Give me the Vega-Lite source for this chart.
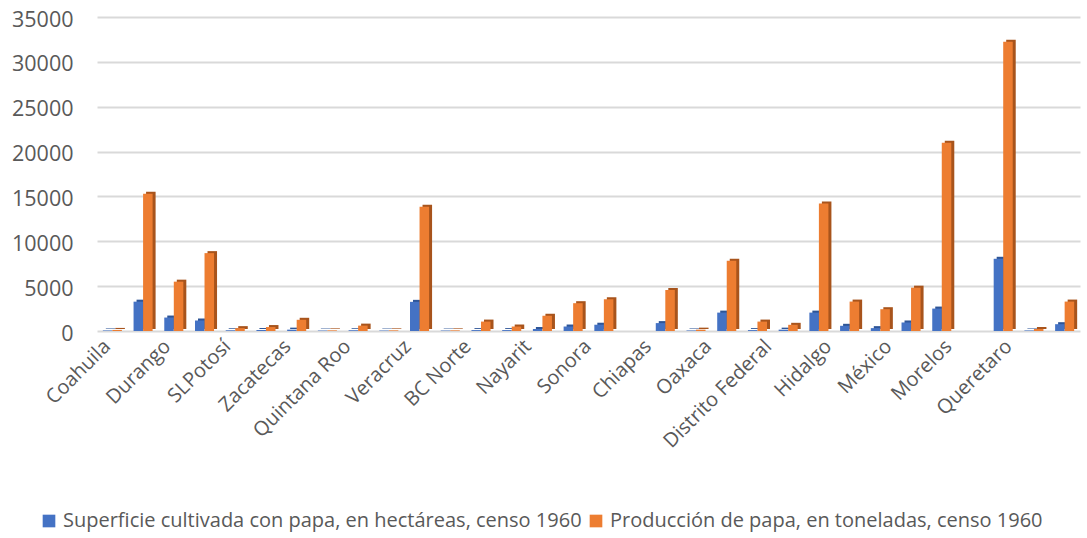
{
  "$schema": "https://vega.github.io/schema/vega-lite/v6.json",
  "width": 983,
  "height": 314,
  "autosize": {"type": "none"},
  "padding": {"left": 97, "top": 17, "right": 7, "bottom": 207},
  "background": "white",
  "config": {
    "font": "Open Sans",
    "view": {"stroke": null},
    "axis": {"labelColor": "#595959", "labelFont": "Open Sans", "gridColor": "#d9d9d9", "gridWidth": 2, "domain": false, "ticks": false}
  },
  "data": {
    "values": [
      {"estado": "Coahuila", "serie": "Superficie cultivada con papa, en hectáreas, censo 1960", "valor": 60},
      {"estado": "Coahuila", "serie": "Producción de papa, en toneladas, censo 1960", "valor": 120},
      {"estado": "Nuevo León", "serie": "Superficie cultivada con papa, en hectáreas, censo 1960", "valor": 3270},
      {"estado": "Nuevo León", "serie": "Producción de papa, en toneladas, censo 1960", "valor": 15300},
      {"estado": "Durango", "serie": "Superficie cultivada con papa, en hectáreas, censo 1960", "valor": 1500},
      {"estado": "Durango", "serie": "Producción de papa, en toneladas, censo 1960", "valor": 5500},
      {"estado": "Chihuahua", "serie": "Superficie cultivada con papa, en hectáreas, censo 1960", "valor": 1170},
      {"estado": "Chihuahua", "serie": "Producción de papa, en toneladas, censo 1960", "valor": 8680},
      {"estado": "SLPotosí", "serie": "Superficie cultivada con papa, en hectáreas, censo 1960", "valor": 80},
      {"estado": "SLPotosí", "serie": "Producción de papa, en toneladas, censo 1960", "valor": 320},
      {"estado": "Tamaulipas", "serie": "Superficie cultivada con papa, en hectáreas, censo 1960", "valor": 110},
      {"estado": "Tamaulipas", "serie": "Producción de papa, en toneladas, censo 1960", "valor": 440},
      {"estado": "Zacatecas", "serie": "Superficie cultivada con papa, en hectáreas, censo 1960", "valor": 150},
      {"estado": "Zacatecas", "serie": "Producción de papa, en toneladas, censo 1960", "valor": 1250},
      {"estado": "Aguascalientes", "serie": "Superficie cultivada con papa, en hectáreas, censo 1960", "valor": 50},
      {"estado": "Aguascalientes", "serie": "Producción de papa, en toneladas, censo 1960", "valor": 70},
      {"estado": "Quintana Roo", "serie": "Superficie cultivada con papa, en hectáreas, censo 1960", "valor": 80},
      {"estado": "Quintana Roo", "serie": "Producción de papa, en toneladas, censo 1960", "valor": 600},
      {"estado": "Yucatán", "serie": "Superficie cultivada con papa, en hectáreas, censo 1960", "valor": 50},
      {"estado": "Yucatán", "serie": "Producción de papa, en toneladas, censo 1960", "valor": 70},
      {"estado": "Veracruz", "serie": "Superficie cultivada con papa, en hectáreas, censo 1960", "valor": 3250},
      {"estado": "Veracruz", "serie": "Producción de papa, en toneladas, censo 1960", "valor": 13850},
      {"estado": "Campeche", "serie": "Superficie cultivada con papa, en hectáreas, censo 1960", "valor": 50},
      {"estado": "Campeche", "serie": "Producción de papa, en toneladas, censo 1960", "valor": 70},
      {"estado": "BC Norte", "serie": "Superficie cultivada con papa, en hectáreas, censo 1960", "valor": 100},
      {"estado": "BC Norte", "serie": "Producción de papa, en toneladas, censo 1960", "valor": 1050},
      {"estado": "BC Sur", "serie": "Superficie cultivada con papa, en hectáreas, censo 1960", "valor": 100},
      {"estado": "BC Sur", "serie": "Producción de papa, en toneladas, censo 1960", "valor": 500},
      {"estado": "Nayarit", "serie": "Superficie cultivada con papa, en hectáreas, censo 1960", "valor": 220},
      {"estado": "Nayarit", "serie": "Producción de papa, en toneladas, censo 1960", "valor": 1700},
      {"estado": "Sinaloa", "serie": "Superficie cultivada con papa, en hectáreas, censo 1960", "valor": 500},
      {"estado": "Sinaloa", "serie": "Producción de papa, en toneladas, censo 1960", "valor": 3100},
      {"estado": "Sonora", "serie": "Superficie cultivada con papa, en hectáreas, censo 1960", "valor": 700},
      {"estado": "Sonora", "serie": "Producción de papa, en toneladas, censo 1960", "valor": 3540},
      {"estado": "Tabasco", "serie": "Superficie cultivada con papa, en hectáreas, censo 1960", "valor": 0},
      {"estado": "Tabasco", "serie": "Producción de papa, en toneladas, censo 1960", "valor": 0},
      {"estado": "Chiapas", "serie": "Superficie cultivada con papa, en hectáreas, censo 1960", "valor": 880},
      {"estado": "Chiapas", "serie": "Producción de papa, en toneladas, censo 1960", "valor": 4570},
      {"estado": "Colima", "serie": "Superficie cultivada con papa, en hectáreas, censo 1960", "valor": 60},
      {"estado": "Colima", "serie": "Producción de papa, en toneladas, censo 1960", "valor": 150},
      {"estado": "Oaxaca", "serie": "Superficie cultivada con papa, en hectáreas, censo 1960", "valor": 2050},
      {"estado": "Oaxaca", "serie": "Producción de papa, en toneladas, censo 1960", "valor": 7830},
      {"estado": "Guerrero", "serie": "Superficie cultivada con papa, en hectáreas, censo 1960", "valor": 100},
      {"estado": "Guerrero", "serie": "Producción de papa, en toneladas, censo 1960", "valor": 1050},
      {"estado": "Distrito Federal", "serie": "Superficie cultivada con papa, en hectáreas, censo 1960", "valor": 150},
      {"estado": "Distrito Federal", "serie": "Producción de papa, en toneladas, censo 1960", "valor": 690},
      {"estado": "Puebla", "serie": "Superficie cultivada con papa, en hectáreas, censo 1960", "valor": 2050},
      {"estado": "Puebla", "serie": "Producción de papa, en toneladas, censo 1960", "valor": 14200},
      {"estado": "Hidalgo", "serie": "Superficie cultivada con papa, en hectáreas, censo 1960", "valor": 580},
      {"estado": "Hidalgo", "serie": "Producción de papa, en toneladas, censo 1960", "valor": 3280},
      {"estado": "Tlaxcala", "serie": "Superficie cultivada con papa, en hectáreas, censo 1960", "valor": 320},
      {"estado": "Tlaxcala", "serie": "Producción de papa, en toneladas, censo 1960", "valor": 2430},
      {"estado": "México", "serie": "Superficie cultivada con papa, en hectáreas, censo 1960", "valor": 950},
      {"estado": "México", "serie": "Producción de papa, en toneladas, censo 1960", "valor": 4830},
      {"estado": "Michoacán", "serie": "Superficie cultivada con papa, en hectáreas, censo 1960", "valor": 2500},
      {"estado": "Michoacán", "serie": "Producción de papa, en toneladas, censo 1960", "valor": 20970},
      {"estado": "Morelos", "serie": "Superficie cultivada con papa, en hectáreas, censo 1960", "valor": 0},
      {"estado": "Morelos", "serie": "Producción de papa, en toneladas, censo 1960", "valor": 0},
      {"estado": "Guanajuato", "serie": "Superficie cultivada con papa, en hectáreas, censo 1960", "valor": 8050},
      {"estado": "Guanajuato", "serie": "Producción de papa, en toneladas, censo 1960", "valor": 32250},
      {"estado": "Queretaro", "serie": "Superficie cultivada con papa, en hectáreas, censo 1960", "valor": 60},
      {"estado": "Queretaro", "serie": "Producción de papa, en toneladas, censo 1960", "valor": 220},
      {"estado": "Jalisco", "serie": "Superficie cultivada con papa, en hectáreas, censo 1960", "valor": 760},
      {"estado": "Jalisco", "serie": "Producción de papa, en toneladas, censo 1960", "valor": 3280}
    ]
  },
  "encoding": {
    "x": {
      "field": "estado",
      "type": "nominal",
      "sort": null,
      "title": null,
      "scale": {"paddingInner": 0.38, "paddingOuter": 0.19},
      "axis": {
        "values": ["Coahuila", "Durango", "SLPotosí", "Zacatecas", "Quintana Roo", "Veracruz", "BC Norte", "Nayarit", "Sonora", "Chiapas", "Oaxaca", "Distrito Federal", "Hidalgo", "México", "Morelos", "Queretaro"],
        "labelAngle": -45,
        "labelFontSize": 20,
        "labelPadding": 12,
        "labelOffset": {"expr": "-5 - 20 * datum.index"},
        "labelAlign": "right",
        "labelBaseline": "middle",
        "grid": false
      }
    },
    "y": {
      "field": "valor",
      "type": "quantitative",
      "title": null,
      "scale": {"domain": [0, 35000], "nice": false},
      "axis": {"values": [0, 5000, 10000, 15000, 20000, 25000, 30000, 35000], "labelFontSize": 21.5, "labelPadding": 24, "labelOffset": 3, "format": "d"}
    }
  },
  "layer": [
    {
      "mark": {"type": "bar", "yOffset": -2, "y2Offset": -2},
      "encoding": {
        "xOffset": {"field": "serie", "type": "nominal", "sort": null, "scale": {"domain": ["Superficie cultivada con papa, en hectáreas, censo 1960", "Producción de papa, en toneladas, censo 1960"], "paddingInner": 0, "paddingOuter": 0, "range": [3, 22.05]}},
        "color": {
          "field": "serie",
          "type": "nominal",
          "sort": null,
          "scale": {"domain": ["Superficie cultivada con papa, en hectáreas, censo 1960", "Producción de papa, en toneladas, censo 1960"], "range": ["#2E5597", "#A8541C"]},
          "legend": null
        }
      }
    },
    {
      "mark": {"type": "bar"},
      "encoding": {
        "xOffset": {"field": "serie", "type": "nominal", "sort": null, "scale": {"domain": ["Superficie cultivada con papa, en hectáreas, censo 1960", "Producción de papa, en toneladas, censo 1960"], "paddingInner": 0, "paddingOuter": 0, "range": [0, 19.05]}},
        "color": {
          "field": "serie",
          "type": "nominal",
          "sort": null,
          "scale": {"domain": ["Superficie cultivada con papa, en hectáreas, censo 1960", "Producción de papa, en toneladas, censo 1960"], "range": ["#4472C4", "#ED7D31"]},
          "legend": {
            "title": null,
            "orient": "none",
            "direction": "horizontal",
            "legendX": -58,
            "legendY": 494,
            "symbolType": "square",
            "symbolSize": 160,
            "symbolStrokeWidth": 0,
            "labelFontSize": 20,
            "labelColor": "#595959",
            "labelLimit": 700,
            "columnPadding": 4,
            "labelOffset": 4
          }
        }
      }
    }
  ],
  "resolve": {"scale": {"color": "independent", "xOffset": "independent"}}
}
